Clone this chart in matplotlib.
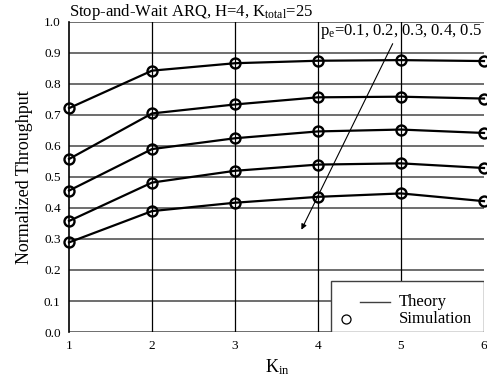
import matplotlib.pyplot as plt
from matplotlib.patches import Rectangle

plt.rcParams['font.family'] = ['Liberation Serif', 'DejaVu Serif']
plt.rcParams['mathtext.fontset'] = 'custom'
plt.rcParams['mathtext.rm'] = 'Liberation Serif'
plt.rcParams['mathtext.it'] = 'Liberation Serif'

# data
k_in = [1, 2, 3, 4, 5, 6]
thr_p01 = [0.722, 0.843, 0.867, 0.875, 0.877, 0.874]
thr_p02 = [0.558, 0.705, 0.734, 0.757, 0.759, 0.753]
thr_p03 = [0.456, 0.590, 0.625, 0.647, 0.653, 0.642]
thr_p04 = [0.358, 0.482, 0.520, 0.540, 0.544, 0.529]
thr_p05 = [0.289, 0.390, 0.417, 0.436, 0.447, 0.422]
series = [thr_p01, thr_p02, thr_p03, thr_p04, thr_p05]
yticks = [0.0, 0.1, 0.2, 0.3, 0.4, 0.5, 0.6, 0.7, 0.8, 0.9, 1.0]
legend_labels = ['Theory', 'Simulation']

fig = plt.figure(figsize=(4.87, 3.81), dpi=100)
ax = fig.add_axes([0.1417, 0.1286, 0.8521, 0.8137])

for v in series:
    ax.plot(k_in, v, color='black', lw=1.6, marker='o', ms=7.2,
            mfc='none', mec='black', mew=1.7, clip_on=False, zorder=3)

ax.set_xlim(1, 6)
ax.set_ylim(0, 1.0)
ax.set_xticks(k_in)
ax.set_yticks(yticks)
ax.set_yticklabels([f'{t:.1f}' for t in yticks])
ax.tick_params(length=0, labelsize=9.5)
ax.tick_params(axis='y', pad=6)
ax.tick_params(axis='x', pad=6)

for t in yticks:
    ax.axhline(t, color='#6e6e6e', lw=1.4, zorder=1)
for k in k_in[1:-1]:
    ax.axvline(k, color='black', lw=0.9, zorder=1)
for s in ['top', 'right', 'bottom']:
    ax.spines[s].set_visible(False)
ax.spines['left'].set_linewidth(1.2)

fig.text(25 / 487, 0.535, 'Normalized Throughput', fontsize=13, rotation=90,
         ha='center', va='center')
fig.text(277 / 487, 9 / 381, r'K$_{\mathrm{in}}$', fontsize=13,
         ha='center', va='baseline')
ax.text(1.0, 1.019, r'Stop-and-Wait ARQ, H=4, K$_{\mathrm{total}}$=25',
        fontsize=12, ha='left', va='baseline')
ax.text(5.97, 0.958, r'p$_{\mathrm{e}}$=0.1, 0.2, 0.3, 0.4, 0.5',
        fontsize=12, ha='right', va='baseline', zorder=4)
ax.annotate('', xy=(3.8, 0.33), xytext=(4.9, 0.93),
            arrowprops=dict(arrowstyle='-|>', color='black', lw=0.8,
                            mutation_scale=8, shrinkA=0, shrinkB=0))

# legend box (theory line and simulation marker sit at different offsets)
tr = ax.transAxes
ax.add_patch(Rectangle((0.631, 0.0), 0.369, 0.1645, transform=tr,
                       facecolor='white', edgecolor='#404040', lw=1.0, zorder=5))
ax.plot([0.701, 0.773], [0.098, 0.098], transform=tr, color='#404040', lw=1.0, zorder=6)
ax.plot([0.667], [0.041], transform=tr, ls='none', marker='o', ms=6.5,
        mfc='none', mec='black', mew=0.9, zorder=6)
ax.text(0.795, 0.098, legend_labels[0], transform=tr, fontsize=12,
        ha='left', va='center', zorder=6)
ax.text(0.795, 0.041, legend_labels[1], transform=tr, fontsize=12,
        ha='left', va='center', zorder=6)

fig.savefig('out.png', dpi=100)
